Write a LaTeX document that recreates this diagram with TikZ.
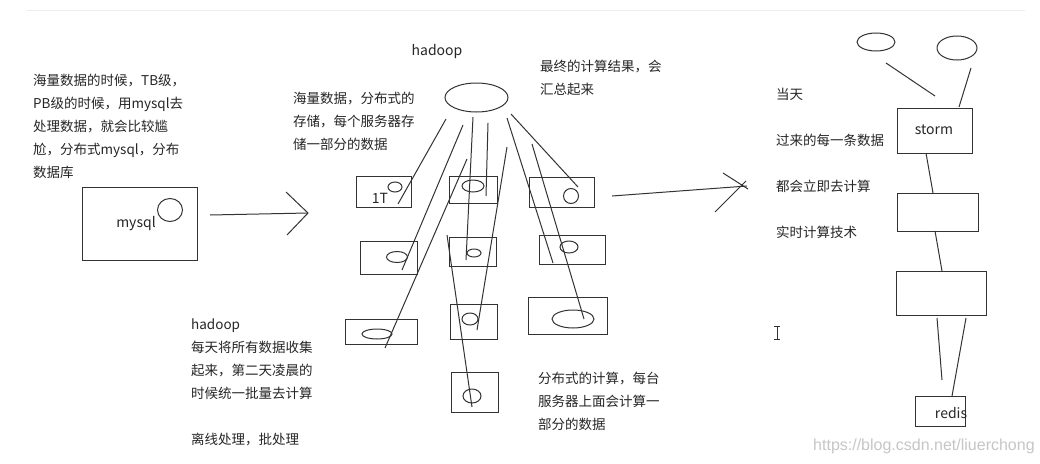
\documentclass[tikz,border=0pt]{standalone}
\usepackage{fontspec}
\setmainfont{Noto Sans CJK SC}
\newfontfamily\urlfont{Liberation Sans}
\begin{document}
\begin{tikzpicture}[x=1pt, y=-1pt,
    pen/.style={line width=1pt, draw=black!80},
    note/.style={anchor=base west, inner sep=0pt, align=left, text=black!85,
        font=\fontsize{13.5}{23}\selectfont},
    word/.style={inner sep=0pt, text=black!85, font=\fontsize{14}{16}\selectfont}]
    \useasboundingbox (0,0) rectangle (1040,463);
    \fill[white] (0,0) rectangle (1040,463);
    \draw[gray!15] (27,10) -- (1025,10);

    % mysql (base anchor sits on the last line)
    \node[note] (intro) at (33,177) {海量数据的时候，TB级，\\PB级的时候，用mysql去\\处理数据，就会比较尴\\尬，分布式mysql，分布\\数据库};
    \draw[pen] (82,187) rectangle (197,260);
    \draw[pen] (170,210) ellipse [x radius=12.5pt, y radius=11.5pt];
    \node[word] (mysql) at (136,224) {mysql};
    \draw[pen] (210,215) -- (308,213);
    \draw[pen] (286,192) -- (308,213) -- (287,235);

    % hadoop
    \node[word] (hadoop) at (437,52) {hadoop};
    \node[note] (storage) at (293,149) {海量数据，分布式的\\存储，每个服务器存\\储一部分的数据};
    \node[note] (summary) at (540,94) {最终的计算结果，会\\汇总起来};
    \draw[pen] (476.5,97.5) ellipse [x radius=31.5pt, y radius=14.5pt];

    % servers
    \foreach \xa/\ya/\xb/\yb in {356/176/411/207, 449/176/497/203, 529/177/594/207,
        360/241/417/274, 449/237/496/266, 539/235/605/264,
        345/319/417/344, 450/304/497/339, 528/297/607/334, 451/372/498/412}
        \draw[pen] (\xa,\ya) rectangle (\xb,\yb);
    \foreach \cx/\cy/\rx/\ry in {395/187/7/5, 473/186/11/6, 571/196/7.5/7.5,
        397/257/10.5/5.5, 474/253/7/4, 569/247/9/6,
        377/334/15/5, 470/319/8/6, 573/319/21/9, 472/396/9/7}
        \draw[pen] (\cx,\cy) ellipse [x radius=\rx pt, y radius=\ry pt];
    \node[word] (tera) at (380,198) {1T};

    % strokes from the master
    \draw[pen] (446,119) -- (398,204);
    \draw[pen] (463,125) -- (402,270);
    \draw[pen] (467,159) -- (385,348);
    \draw[pen] (473,117) -- (466,260);
    \draw[pen] (488,123) -- (486,196);
    \draw[pen] (507,147) -- (477,330);
    \draw[pen] (507,118) -- (553,263);
    \draw[pen] (511,114) -- (578,187);
    \draw[pen] (532,144) -- (584,319);
    \draw[pen] (447,235) -- (472,407);

    \node[note] (offline) at (191,444) {hadoop\\每天将所有数据收集\\起来，第二天凌晨的\\时候统一批量去计算\\[23pt]离线处理，批处理};
    \node[note] (compute) at (538,429) {分布式的计算，每台\\服务器上面会计算一\\部分的数据};

    % storm
    \draw[pen] (612,196) -- (747,186);
    \draw[pen] (723,173) -- (748,189);
    \draw[pen] (715,212) -- (746,181);
    \node[note] (realtime) at (776,237) {当天\\[23pt]过来的每一条数据\\[23pt]都会立即去计算\\[23pt]实时计算技术};
    \draw[pen] (876,42) ellipse [x radius=19pt, y radius=9pt];
    \draw[pen] (957,48) ellipse [x radius=20pt, y radius=12pt];
    \draw[pen] (886,63) -- (935,96);
    \draw[pen] (971,68) -- (959,107);
    \draw[pen] (897,108) rectangle (972,153);
    \node[word] (storm) at (934,130) {storm};
    \draw[pen] (926,153) -- (933,193);
    \draw[pen] (897,193) rectangle (978,231);
    \draw[pen] (935,231) -- (942,271);
    \draw[pen] (896,271) rectangle (986,315);
    \draw[pen] (937,318) -- (942,380);
    \draw[pen] (966,318) -- (952,396);
    \draw[pen] (915,396) rectangle (965,426);
    \node[word] (redis) at (951,413) {redis};

    % cursor
    \draw[black!80, line width=0.8pt] (774,326) -- (780,326) (777,326) -- (777,339) (774,339) -- (780,339);

    \node[anchor=base west, inner sep=0pt, text=gray!45, font=\urlfont\fontsize{16}{18}\selectfont] (url) at (813,450) {https://blog.csdn.net/liuerchong};
\end{tikzpicture}
\end{document}
